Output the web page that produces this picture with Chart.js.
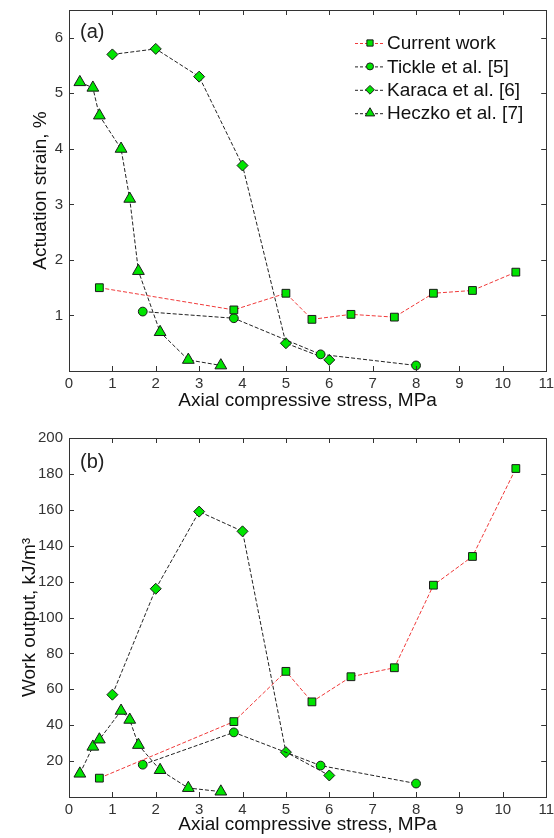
<!DOCTYPE html>
<html>
<head>
<meta charset="utf-8">
<script src="https://cdn.jsdelivr.net/npm/chart.js@4.4.1/dist/chart.umd.min.js"></script>
<style>
  body { margin: 0; background: #fff; }
  canvas { display: block; }
</style>
</head>
<body>
<canvas id="strain" width="554" height="420"></canvas>
<canvas id="work" width="554" height="418"></canvas>
<script>
// stress values, MPa
var currentX = [0.7, 3.8, 5.0, 5.6, 6.5, 7.5, 8.4, 9.3, 10.3];
var tickleX = [1.7, 3.8, 5.8, 8.0];
var karacaX = [1.0, 2.0, 3.0, 4.0, 5.0, 6.0];
var heczkoX = [0.25, 0.55, 0.7, 1.2, 1.4, 1.6, 2.1, 2.75, 3.5];

// (a) actuation strain, %
var currentStrain = [1.5, 1.1, 1.4, 0.93, 1.02, 0.97, 1.4, 1.45, 1.78];
var tickleStrain = [1.07, 0.95, 0.3, 0.1];
var karacaStrain = [5.7, 5.8, 5.3, 3.7, 0.5, 0.2];
var heczkoStrain = [5.2, 5.1, 4.6, 4.0, 3.1, 1.8, 0.7, 0.2, 0.1];

// (b) work output, kJ/m3
var currentWork = [10.5, 42, 70, 53, 67, 72, 118, 134, 183];
var tickleWork = [18, 36, 17.5, 7.5];
var karacaWork = [57, 116, 159, 148, 25, 12];
var heczkoWork = [13, 28, 32, 48, 43, 29, 15, 5, 3];

var seriesNames = ['Current work', 'Tickle et al. [5]', 'Karaca et al. [6]', 'Heczko et al. [7]'];
var xTicks = [0, 1, 2, 3, 4, 5, 6, 7, 8, 9, 10, 11];
var strainTicks = [1, 2, 3, 4, 5, 6];
var workTicks = [20, 40, 60, 80, 100, 120, 140, 160, 180, 200];

var FONT = '"Liberation Sans", Arial, sans-serif';
var GREEN = '#00e400';
var EDGE = '#1a1a1a';
var styles = [
  { color: '#f03a3a', point: 'rect', r: 5.5 },
  { color: '#222', point: 'circle', r: 4.4 },
  { color: '#222', point: 'rectRot', r: 5.5 },
  { color: '#222', point: 'triangle', r: 6.8 }
];

function pairs(xs, ys) {
  return xs.map(function(x, i) { return { x: x, y: ys[i] }; });
}

function makeSets(ys) {
  var xs = [currentX, tickleX, karacaX, heczkoX];
  return ys.map(function(y, i) {
    var s = styles[i];
    return {
      label: seriesNames[i],
      data: pairs(xs[i], y),
      showLine: true,
      borderColor: s.color,
      borderWidth: 1,
      borderDash: [4, 2],
      pointStyle: s.point,
      pointRadius: s.r,
      pointBackgroundColor: GREEN,
      pointBorderColor: EDGE,
      pointBorderWidth: 1
    };
  });
}

// box round the plot with inward ticks on all sides
var boxPlugin = {
  id: 'box',
  afterDraw: function(chart, args, opts) {
    var ctx = chart.ctx, a = chart.chartArea;
    var xs = chart.scales.x, ys = chart.scales.y;
    ctx.save();
    ctx.strokeStyle = '#333';
    ctx.lineWidth = 1;
    ctx.strokeRect(Math.round(a.left) + 0.5, Math.round(a.top) + 0.5,
      Math.round(a.right - a.left), Math.round(a.bottom - a.top));
    ctx.beginPath();
    opts.xt.forEach(function(v) {
      var px = Math.round(xs.getPixelForValue(v)) + 0.5;
      ctx.moveTo(px, a.bottom); ctx.lineTo(px, a.bottom - 5);
      ctx.moveTo(px, a.top); ctx.lineTo(px, a.top + 5);
    });
    opts.yt.forEach(function(v) {
      var py = Math.round(ys.getPixelForValue(v)) + 0.5;
      ctx.moveTo(a.left, py); ctx.lineTo(a.left + 5, py);
      ctx.moveTo(a.right, py); ctx.lineTo(a.right - 5, py);
    });
    ctx.stroke();
    ctx.fillStyle = '#222';
    ctx.font = '20px ' + FONT;
    ctx.textBaseline = 'middle';
    ctx.fillText(opts.tag, a.left + 11, a.top + opts.tagY);
    ctx.restore();
  }
};

var legendPlugin = {
  id: 'boxLegend',
  afterDraw: function(chart, args, opts) {
    if (!opts.show) return;
    var ctx = chart.ctx;
    ctx.save();
    chart.data.datasets.forEach(function(ds, i) {
      var y = 43 + i * 23.4;
      ctx.strokeStyle = ds.borderColor;
      ctx.lineWidth = 1;
      ctx.setLineDash([3, 2]);
      ctx.beginPath();
      ctx.moveTo(355, y + 0.5); ctx.lineTo(385, y + 0.5);
      ctx.stroke();
      ctx.setLineDash([]);
      ctx.fillStyle = GREEN;
      ctx.strokeStyle = EDGE;
      Chart.helpers.drawPoint(ctx, {
        pointStyle: ds.pointStyle, radius: ds.pointRadius * 0.8,
        borderWidth: 1, rotation: 0
      }, 370, y);
      ctx.fillStyle = '#111';
      ctx.font = '19px ' + FONT;
      ctx.textBaseline = 'middle';
      ctx.fillText(ds.label, 387, y + 1);
    });
    ctx.restore();
  }
};

function makeChart(id, sets, yMax, yTicks, yStep, yTitle, cfg) {
  return new Chart(document.getElementById(id), {
    type: 'scatter',
    data: { datasets: sets },
    plugins: [boxPlugin, legendPlugin],
    options: {
      responsive: false,
      animation: false,
      devicePixelRatio: 1,
      layout: { padding: { top: cfg.top, right: 6, left: 0, bottom: 0 } },
      plugins: {
        legend: { display: false },
        tooltip: { enabled: false },
        box: { xt: xTicks, yt: yTicks, tag: cfg.tag, tagY: cfg.tagY },
        boxLegend: { show: cfg.legend }
      },
      scales: {
        x: {
          type: 'linear', min: 0, max: 11,
          grid: { display: false, drawTicks: false },
          border: { display: false },
          ticks: { stepSize: 1, padding: 4, color: '#333', maxRotation: 0,
            font: { family: FONT, size: 15 } },
          title: { display: true, text: 'Axial compressive stress, MPa', color: '#111',
            font: { family: FONT, size: 19 }, padding: { top: 0, bottom: cfg.xTitlePad } },
          afterFit: function(s) { s.height = cfg.xH; s.paddingLeft = 0; s.paddingRight = 0; }
        },
        y: {
          type: 'linear', min: 0, max: yMax,
          grid: { display: false, drawTicks: false },
          border: { display: false },
          ticks: { stepSize: yStep, includeBounds: false, padding: 6, color: '#333',
            font: { family: FONT, size: 15 },
            callback: function(v) { return yTicks.indexOf(v) >= 0 ? v : ''; } },
          title: { display: true, text: yTitle, color: '#111',
            font: { family: FONT, size: 19 }, padding: { top: cfg.yTitlePad, bottom: 0 } },
          afterFit: function(s) { s.width = 69; s.paddingTop = 0; s.paddingBottom = 0; }
        }
      }
    }
  });
}

makeChart('strain',
  makeSets([currentStrain, tickleStrain, karacaStrain, heczkoStrain]),
  6.5, strainTicks, 1, 'Actuation strain, %',
  { top: 10, xH: 49, xTitlePad: 8, yTitlePad: 29, tag: '(a)', tagY: 22, legend: true });

makeChart('work',
  makeSets([currentWork, tickleWork, karacaWork, heczkoWork]),
  200, workTicks, 20, 'Work output, kJ/m\u00b3',
  { top: 18, xH: 41, xTitlePad: 2, yTitlePad: 18, tag: '(b)', tagY: 24, legend: false });
</script>
</body>
</html>
